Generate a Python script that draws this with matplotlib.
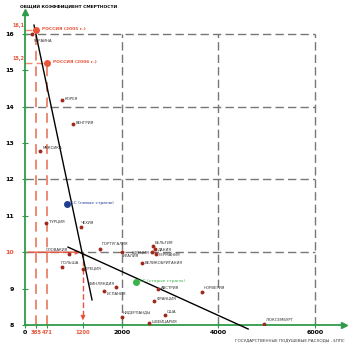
import matplotlib.pyplot as plt

# страны: расходы (ППС) и общий коэффициент смертности
names = ["УКРАИНА", "КОРЕЯ", "ВЕНГРИЯ", "МЕКСИКА", "ТУРЦИЯ", "ЧЕХИЯ", "СЛОВАКИЯ",
         "ПОЛЬША", "ГРЕЦИЯ", "ПОРТУГАЛИЯ", "ИТАЛИЯ", "БЕЛЬГИЯ", "ДАНИЯ", "ШВЕЦИЯ",
         "ГЕРМАНИЯ", "ВЕЛИКОБРИТАНИЯ", "ФИНЛЯНДИЯ", "ИСПАНИЯ", "АВСТРИЯ", "ФРАНЦИЯ",
         "НИДЕРЛАНДЫ", "США", "ШВЕЙЦАРИЯ", "НОРВЕГИЯ", "ЛЮКСЕМБУРГ"]
spend = [150, 765, 995, 310, 435, 1160, 910, 765, 1200, 1550, 2000, 2650, 2690, 2630,
         2710, 2420, 1880, 1635, 2750, 2670, 2000, 2900, 2570, 3660, 4950]
mort = [16.0, 14.18, 13.52, 12.78, 10.8, 10.7, 9.95, 9.6, 9.55, 10.1, 10.0, 10.17, 10.08,
        10.0, 9.95, 9.7, 9.04, 8.93, 8.99, 8.66, 8.22, 8.27, 8.06, 8.9, 8.03]

russia_names = ["РОССИЯ (2005 г.)", "РОССИЯ (2006 г.)"]
russia_x = [230, 460]
russia_y = [16.1, 15.2]

eu_names = ["ЕС (новые страны)", "ЕС (старые страны)"]
eu_x = [870, 2300]
eu_y = [11.32, 9.18]

trend1_x = [186, 1387]
trend1_y = [16.24, 8.69]
trend2_x = [890, 4617]
trend2_y = [10.14, 7.89]

cross_x, cross_y = 1200, 10

xticks = [0, 230, 460, 1200, 2000, 4000, 6000]
xlabels = ["0", "385", "471", "1200", "2000", "4000", "6000"]
yticks = [8, 9, 10, 11, 12, 13, 14, 15, 16]

# смещения подписей (в точках) и выравнивание
offsets = {"УКРАИНА": (1, -5, "left"), "КОРЕЯ": (2, 1, "left"), "ВЕНГРИЯ": (2, 1, "left"),
           "МЕКСИКА": (2, 2, "left"), "ТУРЦИЯ": (2, 1, "left"), "ЧЕХИЯ": (0, 3, "left"),
           "СЛОВАКИЯ": (-1, 3, "right"), "ПОЛЬША": (-1, 3, "left"), "ГРЕЦИЯ": (2, 0, "left"),
           "ПОРТУГАЛИЯ": (1, 3, "left"), "ИТАЛИЯ": (1, -3, "left"), "БЕЛЬГИЯ": (1, 2, "left"),
           "ДАНИЯ": (2, 0, "left"), "ШВЕЦИЯ": (-2, 0, "right"), "ГЕРМАНИЯ": (2, -1, "left"),
           "ВЕЛИКОБРИТАНИЯ": (2, 0, "left"), "ФИНЛЯНДИЯ": (-1, 3, "right"),
           "ИСПАНИЯ": (2, -2, "left"), "АВСТРИЯ": (2, 1, "left"), "ФРАНЦИЯ": (2, 2, "left"),
           "НИДЕРЛАНДЫ": (1, 3, "left"), "США": (1, 2, "left"), "ШВЕЙЦАРИЯ": (2, 0, "left"),
           "НОРВЕГИЯ": (1, 3, "left"), "ЛЮКСЕМБУРГ": (1, 3, "left")}

green = "#2f9b4b"
red = "#e8553a"
salmon = "#ec8a72"
dark = "#a0291f"
grey = "#777777"

fig = plt.figure(figsize=(3.51, 3.48), dpi=100)
ax = fig.add_axes([25 / 351, 1 - 325 / 348, 319 / 351, 313 / 348])
ax.set_xlim(0, 6600)
ax.set_ylim(8, 16.6)

# сетка
for yv in [16, 14, 12, 10]:
    ax.plot([0, 6000], [yv, yv], color=grey, lw=1.0, ls=(0, (6, 3)), zorder=1)
for xv in [2000, 4000, 6000]:
    ax.plot([xv, xv], [8, 16], color=grey, lw=1.0, ls=(0, (6, 3)), zorder=1)

# Россия: пунктир к осям
for x, y in zip(russia_x, russia_y):
    ax.plot([0, x], [y, y], color=salmon, lw=1.0, ls=(0, (5, 3)), zorder=2)
    ax.plot([x, x], [8, y], color=salmon, lw=1.4, ls=(0, (5, 3)), zorder=2)

# точка пересечения
ax.annotate("", xy=(cross_x, cross_y), xytext=(0, cross_y),
            arrowprops=dict(arrowstyle="-|>", color=red, lw=1.0, mutation_scale=6), zorder=3)
ax.plot([cross_x, cross_x], [cross_y, 8.2], color=red, lw=1.0, ls=(0, (4, 2)), zorder=3)
ax.annotate("", xy=(cross_x, 8.05), xytext=(cross_x, 8.3),
            arrowprops=dict(arrowstyle="-|>", color=red, lw=1.0, mutation_scale=6), zorder=3)

# линии тренда
ax.plot(trend1_x, trend1_y, color="black", lw=1.0, clip_on=False, zorder=4)
ax.plot(trend2_x, trend2_y, color="black", lw=1.0, clip_on=False, zorder=4)

# страны
ax.plot(spend, mort, "o", color=dark, ms=2.8, mec="none", zorder=5)
for n, x, y in zip(names, spend, mort):
    dx, dy, ha = offsets[n]
    ax.annotate(n, (x, y), xytext=(dx, dy), textcoords="offset points",
                fontsize=2.8, ha=ha, va="center", color="#333333", zorder=6)

ax.plot(russia_x, russia_y, "o", color=red, ms=5, mec="none", zorder=5)
for n, x, y in zip(russia_names, russia_x, russia_y):
    ax.annotate(n, (x, y), xytext=(4, 1), textcoords="offset points",
                fontsize=3.2, fontweight="bold", color=red, va="center", zorder=6)

eu_colors = ["#1f3f91", "#39b44a"]
for n, x, y, c in zip(eu_names, eu_x, eu_y, eu_colors):
    ax.plot(x, y, "o", color=c, ms=5, mec="none", zorder=5)
    ax.annotate(n, (x, y), xytext=(3, 1), textcoords="offset points",
                fontsize=3.2, color=c, va="center", zorder=6)

# оси
for s in ["top", "right"]:
    ax.spines[s].set_visible(False)
for s in ["left", "bottom"]:
    ax.spines[s].set_color(green)
    ax.spines[s].set_linewidth(1.3)
ax.plot(1, 0, ">", color=green, ms=4, transform=ax.transAxes, clip_on=False)
ax.plot(0, 1, "^", color=green, ms=4, transform=ax.transAxes, clip_on=False)

ax.set_xticks(xticks)
ax.set_xticklabels(xlabels)
ax.set_yticks(yticks)
ax.tick_params(axis="both", colors=green, direction="inout", length=4, width=0.8,
               labelsize=4.5, labelcolor="black", pad=1.5)
ax.tick_params(axis="y", pad=6)
for lab in ax.get_xticklabels() + ax.get_yticklabels():
    lab.set_fontweight("bold")
for lab in ax.get_xticklabels():
    if lab.get_text() in ("385", "471", "1200"):
        lab.set_color(red)
        lab.set_fontsize(3.8)
for lab in ax.get_yticklabels():
    if lab.get_text() == "10":
        lab.set_color(red)

for x, y in zip(russia_x, russia_y):
    ax.text(-20, y + 0.12, str(y).replace(".", ","), fontsize=3.5, fontweight="bold",
            color=red, ha="right", va="center")

fig.text(20 / 351, 1 - 5 / 348, "ОБЩИЙ КОЭФФИЦИЕНТ СМЕРТНОСТИ", fontsize=3.2,
         fontweight="bold", va="top")
fig.text(345 / 351, 1 - 340 / 348, "ГОСУДАРСТВЕННЫЕ ПОДУШЕВЫЕ РАСХОДЫ , $ППС",
         fontsize=3.0, ha="right", va="center", color="#333333")

fig.savefig("out.png", dpi=100)
